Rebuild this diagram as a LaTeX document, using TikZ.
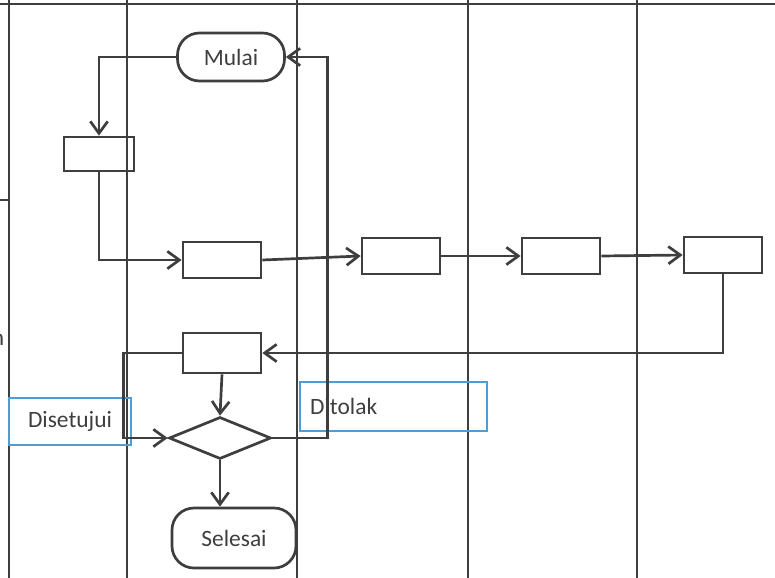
\documentclass[tikz,border=0pt]{standalone}
\usepackage{fontspec}
\setmainfont{Carlito}
\usepackage{xcolor}
\definecolor{mygray}{RGB}{62,62,62}
\definecolor{myblue}{RGB}{82,156,214}
\usepackage{tikz}
\usetikzlibrary{arrows.meta}
\usetikzlibrary{shapes.geometric}
\tikzset{
  lane/.style={mygray, line width=1.5pt},
  flow/.style={mygray, line width=2.3pt, -{Straight Barb[length=0.36cm,width=0.52cm]}},
  proc/.style={draw=mygray, line width=2.3pt, minimum width=2.34cm, minimum height=1.08cm, inner sep=0pt},
  term/.style={draw=mygray, line width=2.3pt, rounded corners=0.66cm, inner sep=0pt, text=mygray},
  decision/.style={diamond, draw=mygray, line width=2.3pt, minimum width=3.06cm, minimum height=1.26cm, inner sep=0pt},
  note/.style={draw=myblue, line width=0.9pt, inner sep=0pt, text=mygray}
}

\begin{document}
\begin{tikzpicture}[font=\fontsize{20}{24}\selectfont]
      \useasboundingbox (0cm,0cm) rectangle (23.25cm,-17.34cm);
      \draw[lane] (0cm,-0.12cm) -- (23.25cm,-0.12cm);
      \foreach \x in {0.27,3.81,8.91,14.04,19.11}
        \draw[lane] (\x cm,0cm) -- (\x cm,-17.34cm);
      \draw[lane] (0cm,-6cm) -- (0.27cm,-6cm);
      \node[anchor=east, inner sep=0pt, text=mygray] (potong) at (0.13cm,-10.2cm) {n};

      \node[term, minimum width=3.21cm, minimum height=1.44cm] (mulai) at (6.93cm,-1.71cm) {Mulai};
      \node[proc, minimum width=2.1cm, minimum height=1.02cm] (p1) at (2.97cm,-4.62cm) {};
      \foreach \n/\x/\y in {2/6.66/7.8, 3/12.03/7.68, 4/16.83/7.68, 5/21.69/7.65}
        \node[proc] (p\n) at (\x cm,-\y cm) {};
      \node[proc, minimum height=1.2cm] (p6) at (6.66cm,-10.59cm) {};
      \node[decision] (keputusan) at (6.6cm,-13.14cm) {};
      \node[term, minimum width=3.72cm, minimum height=1.8cm] (selesai) at (7.02cm,-16.14cm) {Selesai};

      \node[note, minimum width=3.66cm, minimum height=1.41cm] (setuju) at (2.1cm,-12.645cm) {Disetujui};
      \node[note, minimum width=5.61cm, minimum height=1.47cm, text width=5.0cm, align=left] (tolak) at (11.805cm,-12.195cm) {Ditolak};

      \draw[flow] (mulai.west) -| (p1.north);
      \draw[flow] (p1.south) |- (p2.west);
      \draw[flow] (p2.east) -- (p3.west);
      \draw[flow] (p3.east) -- (p4.west);
      \draw[flow] (p4.east) -- (p5.west);
      \draw[flow] (p5.south) |- (p6.east);
      \draw[flow] (p6.west) -- ++(-1.74cm,0cm) |- (keputusan.west);
      \draw[flow] (p6.south) -- (keputusan.north);
      \draw[flow] (keputusan.east) -- ++(1.65cm,0cm) |- (mulai.east);
      \draw[flow] (keputusan.south) -- (keputusan.south |- selesai.north);
    \end{tikzpicture}
\end{document}
